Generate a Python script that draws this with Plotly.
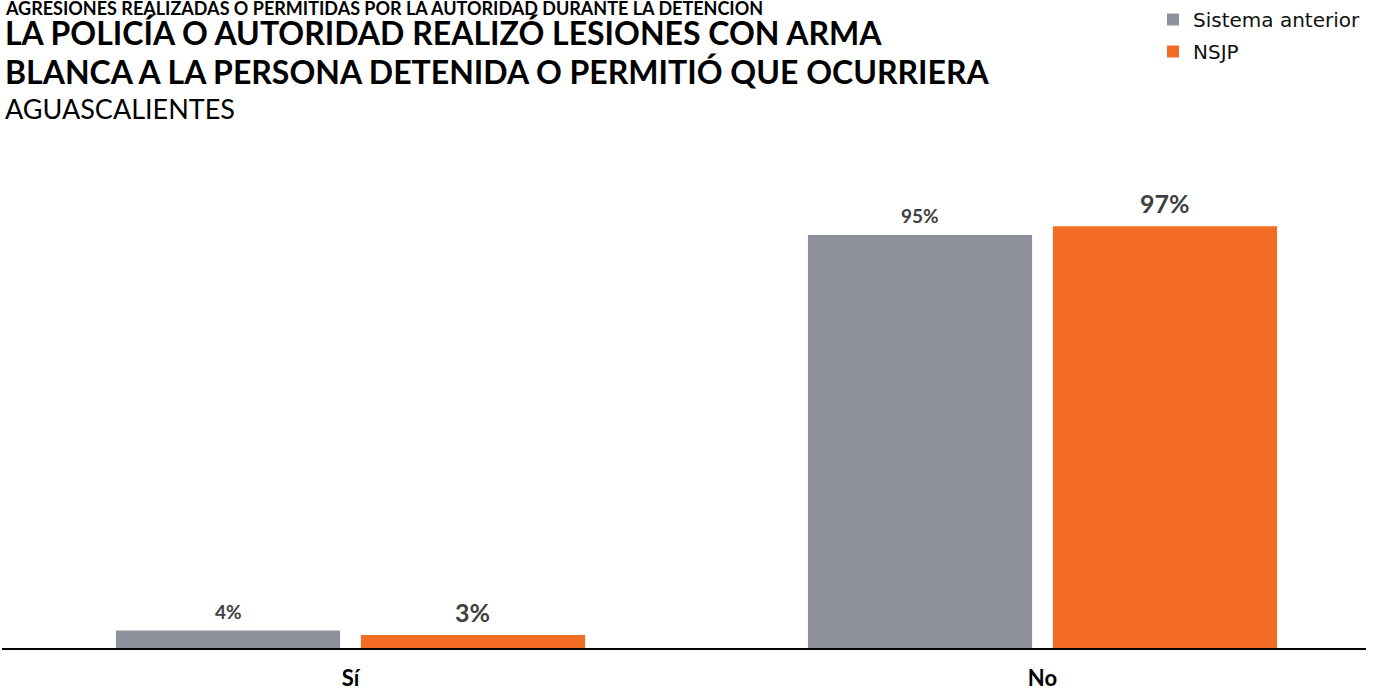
import plotly.graph_objects as go

categories = ["Sí", "No"]
series_names = ["Sistema anterior", "NSJP"]
sistema_anterior = [4, 95]
nsjp = [3, 97]
series_values = [sistema_anterior, nsjp]
colors = ["#8E919C", "#F26C23"]
label_sizes = [19, 25]

W, H = 1378, 689
MT, MB = 150, 41
PH = H - MT - MB

fig = go.Figure()
for k, (name, vals, col) in enumerate(zip(series_names, series_values, colors)):
    fig.add_trace(go.Bar(
        x=categories, y=vals, name=name, marker=dict(color=col, line=dict(width=0)),
        hoverinfo="skip", legendgroup=f"g{k}",
    ))

offsets = [-0.177, 0.177]
for s, vals in enumerate(series_values):
    for i, v in enumerate(vals):
        fig.add_annotation(
            x=i + offsets[s], y=v, xref="x", yref="y",
            text=f"<b>{v}%</b>", showarrow=False, yanchor="bottom", yshift=6,
            font=dict(family="Lato", size=label_sizes[s], color="#404040"),
        )

title_lines = [
    ("<b>AGRESIONES REALIZADAS O PERMITIDAS POR LA AUTORIDAD DURANTE LA DETENCIÓN</b>", 18, 8),
    ("<b>LA POLICÍA O AUTORIDAD REALIZÓ LESIONES CON ARMA</b>", 32, 33),
    ("<b>BLANCA A LA PERSONA DETENIDA O PERMITIÓ QUE OCURRIERA</b>", 32, 71),
    ("AGUASCALIENTES", 27, 108),
]
for txt, size, mid in title_lines:
    fig.add_annotation(
        x=0.0, y=(H - MB - mid) / PH, xref="paper", yref="paper",
        xanchor="left", yanchor="middle", text=txt, showarrow=False,
        font=dict(family="Lato", size=size, color="#000000"),
        xshift=1,
    )

fig.update_layout(
    width=W, height=H,
    margin=dict(l=2, r=12, t=MT, b=MB, autoexpand=False),
    paper_bgcolor="white", plot_bgcolor="white",
    barmode="group", bargap=0.292, bargroupgap=0.085,
    font=dict(family="Lato", color="#000000"),
    showlegend=True,
    legend=dict(
        x=1.0, y=1.0, xref="paper", yref="container", xanchor="right", yanchor="top",
        font=dict(family="DejaVu Sans", size=20, color="#111111"),
        bgcolor="rgba(0,0,0,0)", itemwidth=30, tracegroupgap=3,
    ),
    xaxis=dict(
        range=[-0.5036, 1.4675], showgrid=False, zeroline=False, automargin=False,
        showline=True, linecolor="#000000", linewidth=2,
        ticks="", tickfont=dict(family="Lato", size=22, color="#000000"),
        tickprefix="<b>", ticksuffix="</b>", ticklabelstandoff=10,
    ),
    yaxis=dict(range=[0, 114.56], visible=False, showgrid=False, zeroline=False,
               automargin=False),
)

fig.write_html("out.html", config={"displayModeBar": False},
               post_script="document.body.style.margin='0px';")
